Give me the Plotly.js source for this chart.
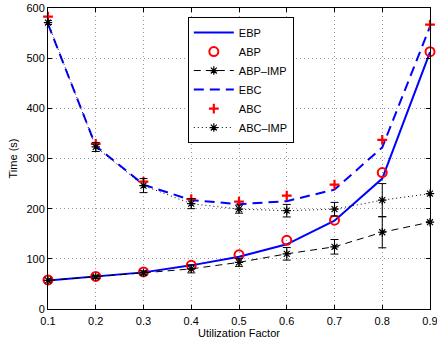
<!DOCTYPE html>
<html>
<head>
<meta charset="utf-8">
<script src="https://cdn.plot.ly/plotly-3.0.1.min.js"></script>
<style>html,body{margin:0;padding:0;background:#fff;}#chart{width:437px;height:343px;}</style>
</head>
<body>
<div id="chart"></div>
<script>
const utilization = [0.1, 0.2, 0.3, 0.4, 0.5, 0.6, 0.7, 0.8, 0.9];
const ebp = [57, 65, 73, 87, 104, 129, 176, 260, 512];
const abp = [58, 65, 74, 87, 108, 137, 177, 272, 513];
const abpImp = [57, 64, 72, 80, 93, 110, 124, 153, 173];
const abpImpErr = [3, 3, 4, 8, 8, 12.5, 14.5, 31, 0];
const ebc = [568, 325, 248, 217, 209, 215, 238, 322, 563];
const abc = [583, 329, 254, 219, 214, 226, 248, 337, 567];
const abcImp = [571, 323, 246, 210, 199, 196, 199, 217, 230];
const abcImpErr = [4, 9, 14, 10, 8, 12.5, 13.5, 33, 0];
const xTicks = [0.1, 0.2, 0.3, 0.4, 0.5, 0.6, 0.7, 0.8, 0.9];
const xTickLabels = ['0.1', '0.2', '0.3', '0.4', '0.5', '0.6', '0.7', '0.8', '0.9'];
const yTicks = [0, 100, 200, 300, 400, 500, 600];

const traces = [
  {name: 'EBP', x: utilization, y: ebp, mode: 'lines', line: {color: '#0000ff', width: 2}, cliponaxis: false},
  {name: 'ABP', x: utilization, y: abp, mode: 'markers', marker: {symbol: 'circle-open', color: '#ff0000', size: 9, line: {width: 2, color: '#ff0000'}}, cliponaxis: false},
  {name: 'ABP–IMP', x: utilization, y: abpImp, mode: 'lines+markers', line: {color: '#000', width: 1, dash: '7px,5px'},
   marker: {symbol: 'asterisk-open', color: '#000', size: 7, line: {width: 1.2, color: '#000'}},
   error_y: {type: 'data', array: abpImpErr, visible: true, color: '#000', thickness: 1, width: 4}, cliponaxis: false},
  {name: 'EBC', x: utilization, y: ebc, mode: 'lines', line: {color: '#0000ff', width: 2, dash: '10px,6px'}, cliponaxis: false},
  {name: 'ABC', x: utilization, y: abc, mode: 'markers', marker: {symbol: 'cross-thin-open', color: '#ff0000', size: 7, line: {width: 2.2, color: '#ff0000'}}, cliponaxis: false},
  {name: 'ABC–IMP', x: utilization, y: abcImp, mode: 'lines+markers', line: {color: '#000', width: 1, dash: '1px,3px'},
   marker: {symbol: 'asterisk-open', color: '#000', size: 7, line: {width: 1.2, color: '#000'}},
   error_y: {type: 'data', array: abcImpErr, visible: true, color: '#000', thickness: 1, width: 4}, cliponaxis: false}
];

const axisCommon = {
  showline: true, linecolor: '#000', linewidth: 1, mirror: 'allticks',
  ticks: 'inside', ticklen: 4, tickcolor: '#000', tickwidth: 1,
  showgrid: true, gridcolor: '#9a9a9a', gridwidth: 1, griddash: '1px,3px',
  zeroline: false, tickfont: {family: 'Liberation Sans, Arial, sans-serif', size: 11, color: '#000'}
};

const layout = {
  width: 437, height: 343,
  margin: {l: 48, r: 7, t: 8, b: 34},
  paper_bgcolor: '#fff', plot_bgcolor: '#fff',
  font: {family: 'Liberation Sans, Arial, sans-serif', size: 11, color: '#000'},
  showlegend: true,
  xaxis: Object.assign({}, axisCommon, {range: [0.09999, 0.90001], tickmode: 'array', tickvals: xTicks, ticktext: xTickLabels,
    automargin: false, ticklabeloverflow: 'allow', ticklabelstandoff: 2,
    title: {text: 'Utilization Factor', font: {size: 11}, standoff: 3}}),
  yaxis: Object.assign({}, axisCommon, {range: [0, 600], tickmode: 'array', tickvals: yTicks, automargin: false,
    title: {text: 'Time (s)', font: {size: 11}, standoff: 6}}),
  legend: {x: 0.366, y: 0.97, xanchor: 'left', yanchor: 'top', bgcolor: '#fff', bordercolor: '#000', borderwidth: 1,
    font: {size: 11}, tracegroupgap: 0, itemwidth: 40}
};

Plotly.newPlot('chart', traces, layout, {displayModeBar: false, staticPlot: true});
</script>
</body>
</html>
